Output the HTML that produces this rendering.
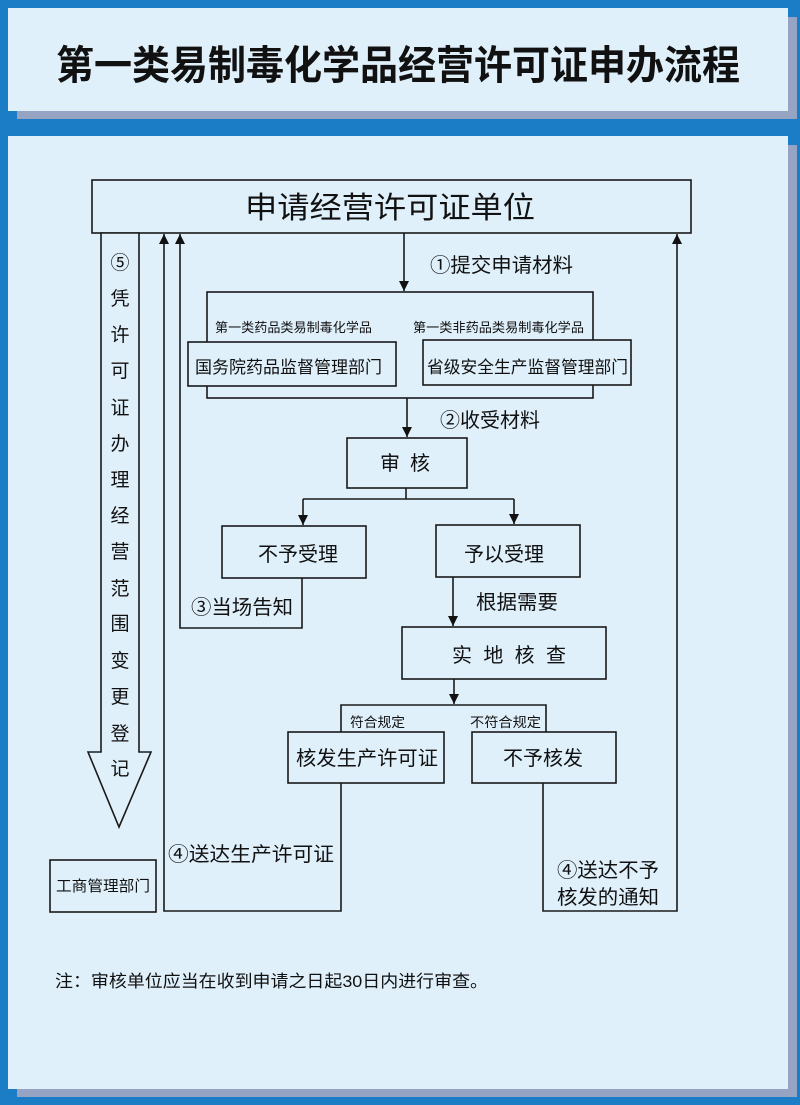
<!DOCTYPE html>
<html><head><meta charset="utf-8"><style>
html,body{margin:0;padding:0;width:800px;height:1105px;overflow:hidden;background:#1b7dc6;}
svg{display:block;}
text{font-family:"Liberation Sans","Noto Sans CJK SC","WenQuanYi Zen Hei",sans-serif;fill:#111;}
</style></head><body>
<svg width="800" height="1105" viewBox="0 0 800 1105" xmlns="http://www.w3.org/2000/svg">
<defs>
<marker id="ah" viewBox="0 0 10 16" refX="10" refY="8" markerWidth="10" markerHeight="16" markerUnits="userSpaceOnUse" orient="auto">
<path d="M0,3 L10,8 L0,13 z" fill="#111"/>
</marker>
</defs>
<rect x="0" y="0" width="800" height="1105" fill="#1b7dc6"/>
<!-- top panel -->
<rect x="17" y="17" width="780" height="102" fill="#97a3c3"/>
<rect x="8" y="8" width="780" height="103" fill="#dff0fb"/>
<text x="56" y="79" font-size="40" font-weight="bold" textLength="684" lengthAdjust="spacingAndGlyphs">第一类易制毒化学品经营许可证申办流程</text>
<!-- main panel -->
<rect x="17" y="145" width="780" height="952" fill="#97a3c3"/>
<rect x="8" y="136" width="780" height="953" fill="#dff0fb"/>

<g stroke="#1a1a1a" stroke-width="1.6" fill="none">
<!-- main box -->
<rect x="92" y="180" width="599" height="53" fill="#dff0fb"/>
<!-- big left arrow -->
<polygon points="101,233 101,752 88,752 119,827 151,752 139,752 139,233" fill="#dff0fb"/>
<!-- return lines -->
<polyline points="341,783 341,911 164,911 164,234" marker-end="url(#ah)"/>
<polyline points="302,578 302,628 180,628 180,234" marker-end="url(#ah)"/>
<polyline points="543,783 543,911 677,911 677,234" marker-end="url(#ah)"/>
<!-- arrow 1 -->
<line x1="404" y1="233" x2="404" y2="291" marker-end="url(#ah)"/>
<!-- bracket 1 -->
<rect x="207" y="292" width="386" height="106"/>
<rect x="188" y="342" width="208" height="44" fill="#dff0fb"/>
<rect x="423" y="340" width="208" height="45" fill="#dff0fb"/>
<!-- arrow 2 -->
<line x1="407" y1="398" x2="407" y2="437" marker-end="url(#ah)"/>
<rect x="347" y="438" width="120" height="50" fill="#dff0fb"/>
<polyline points="406,488 406,499"/>
<line x1="303" y1="499" x2="514" y2="499"/>
<line x1="303" y1="499" x2="303" y2="525" marker-end="url(#ah)"/>
<line x1="514" y1="499" x2="514" y2="524" marker-end="url(#ah)"/>
<rect x="222" y="526" width="144" height="52" fill="#dff0fb"/>
<rect x="436" y="525" width="144" height="52" fill="#dff0fb"/>
<line x1="453" y1="577" x2="453" y2="626" marker-end="url(#ah)"/>
<rect x="402" y="627" width="204" height="52" fill="#dff0fb"/>
<line x1="454" y1="679" x2="454" y2="704" marker-end="url(#ah)"/>
<polyline points="341,732 341,705 546,705 546,732"/>
<rect x="288" y="732" width="156" height="51" fill="#dff0fb"/>
<rect x="472" y="732" width="144" height="51" fill="#dff0fb"/>
<rect x="50" y="860" width="106" height="52" fill="#dff0fb"/>
</g>

<!-- texts -->
<text x="245" y="218" font-size="30" textLength="290" lengthAdjust="spacingAndGlyphs">申请经营许可证单位</text>

<g font-size="19" text-anchor="middle">
<text x="120" y="269">⑤</text>
<text x="120" y="305">凭</text>
<text x="120" y="341">许</text>
<text x="120" y="377">可</text>
<text x="120" y="414">证</text>
<text x="120" y="450">办</text>
<text x="120" y="486">理</text>
<text x="120" y="522">经</text>
<text x="120" y="558">营</text>
<text x="120" y="595">范</text>
<text x="120" y="630">围</text>
<text x="120" y="667">变</text>
<text x="120" y="703">更</text>
<text x="120" y="740">登</text>
<text x="120" y="775">记</text>
</g>

<text x="430" y="272" font-size="20" textLength="143" lengthAdjust="spacingAndGlyphs">①提交申请材料</text>
<text x="215" y="332" font-size="13" textLength="157" lengthAdjust="spacingAndGlyphs">第一类药品类易制毒化学品</text>
<text x="413" y="332" font-size="13" textLength="171" lengthAdjust="spacingAndGlyphs">第一类非药品类易制毒化学品</text>
<text x="195" y="373" font-size="17" textLength="187" lengthAdjust="spacingAndGlyphs">国务院药品监督管理部门</text>
<text x="427" y="373" font-size="17" textLength="201" lengthAdjust="spacingAndGlyphs">省级安全生产监督管理部门</text>
<text x="440" y="427" font-size="20" textLength="100" lengthAdjust="spacingAndGlyphs">②收受材料</text>
<text x="380" y="470" font-size="20">审</text>
<text x="410" y="470" font-size="20">核</text>
<text x="258" y="561" font-size="20" textLength="80" lengthAdjust="spacingAndGlyphs">不予受理</text>
<text x="464" y="561" font-size="20" textLength="80" lengthAdjust="spacingAndGlyphs">予以受理</text>
<text x="191" y="614" font-size="20" textLength="102" lengthAdjust="spacingAndGlyphs">③当场告知</text>
<text x="476" y="609" font-size="20" textLength="82" lengthAdjust="spacingAndGlyphs">根据需要</text>
<text x="452" y="662" font-size="20" textLength="114" lengthAdjust="spacing">实地核查</text>
<text x="350" y="727" font-size="13.5" textLength="55" lengthAdjust="spacingAndGlyphs">符合规定</text>
<text x="470" y="727" font-size="13.5" textLength="71" lengthAdjust="spacingAndGlyphs">不符合规定</text>
<text x="296" y="765" font-size="20" textLength="142" lengthAdjust="spacingAndGlyphs">核发生产许可证</text>
<text x="503" y="765" font-size="20" textLength="80" lengthAdjust="spacingAndGlyphs">不予核发</text>
<text x="168" y="861" font-size="20" textLength="166" lengthAdjust="spacingAndGlyphs">④送达生产许可证</text>
<text x="557" y="877" font-size="20" textLength="102" lengthAdjust="spacingAndGlyphs">④送达不予</text>
<text x="557" y="904" font-size="20" textLength="102" lengthAdjust="spacingAndGlyphs">核发的通知</text>
<text x="56" y="891" font-size="15" textLength="94" lengthAdjust="spacingAndGlyphs">工商管理部门</text>
<text x="55" y="987" font-size="17" textLength="433" lengthAdjust="spacingAndGlyphs">注：审核单位应当在收到申请之日起30日内进行审查。</text>
</svg>
</body></html>
